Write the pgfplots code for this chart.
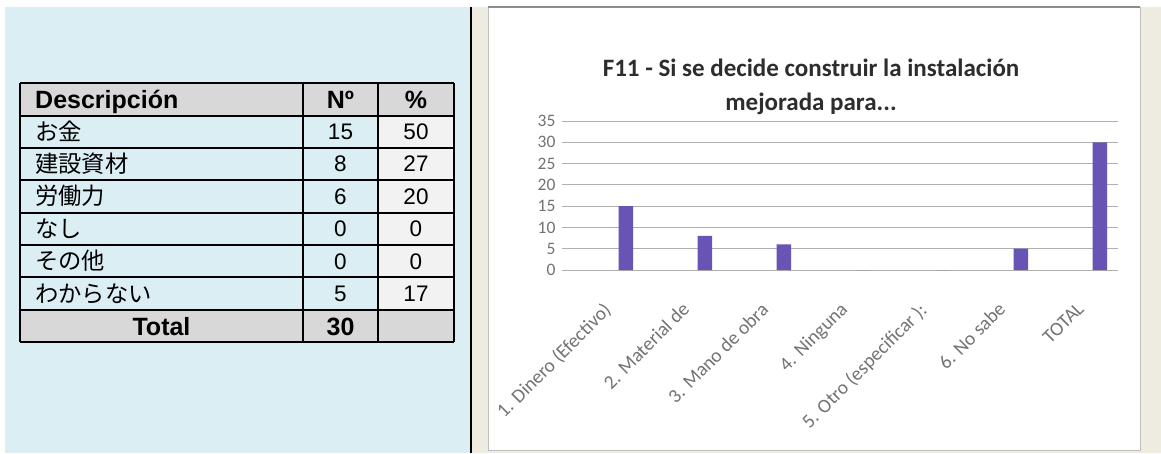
\documentclass[border=0pt]{standalone}
\usepackage{fontspec}
\setmainfont{Liberation Sans}
\newfontfamily\cjk{Noto Sans CJK JP}
\newfontfamily\carlito{Carlito}
\usepackage{pgfplots}
\pgfplotsset{compat=1.18}
\definecolor{bgblue}{RGB}{218,238,243}
\definecolor{hdrgray}{RGB}{216,216,216}
\definecolor{cellgray}{RGB}{242,242,242}
\definecolor{beige}{RGB}{238,236,225}
\definecolor{barpurple}{RGB}{104,84,180}
\definecolor{gridgray}{RGB}{175,175,175}
\definecolor{labgray}{RGB}{115,115,115}
\definecolor{titlegray}{RGB}{45,45,45}
\newcommand{\tf}{\fontsize{22.5}{27}\selectfont}
\newcommand{\tbf}{\fontsize{25}{30}\selectfont\bfseries}
\begin{document}
\begin{tikzpicture}[x=1pt,y=1pt]
\useasboundingbox (0,0) rectangle (1161,453);
\fill[white] (0,0) rectangle (1161,453);
\fill[bgblue] (5,0) rectangle (470,446);
\fill[beige] (472,0) rectangle (1161,446);
\fill[black] (469.5,0) rectangle (472,446);
\fill[white] (488,3) rectangle (1140,446);
\draw[black!25, line width=0.8pt] (488,3) rectangle (1140,446);
\draw[black!45, line width=1.2pt] (488,446) -- (1140,446);
% table
\fill[hdrgray] (20,337) rectangle (454,370);
\fill[hdrgray] (20,111) rectangle (454,143);
\fill[cellgray] (378,143) rectangle (454,337);
\foreach \yy in {370,337,305,273,240,208,176,143,111}{\draw[line width=1.6pt] (20,\yy) -- (454,\yy);}
\foreach \xx in {20,303,378,454}{\draw[line width=1.6pt] (\xx,111) -- (\xx,370);}
\node[anchor=base west, inner sep=0pt] at (35,344.5) {\tbf Descripción};
\node[anchor=base, inner sep=0pt] at (340.5,344.5) {\tbf Nº};
\node[anchor=base, inner sep=0pt] at (416,344.5) {\tbf \%};
\foreach \yc/\lab/\n/\p in {321/お金/15/50, 289/建設資材/8/27, 256.5/労働力/6/20, 224/なし/0/0, 192/その他/0/0, 159.5/わからない/5/17}{
  \node[anchor=base west, inner sep=0pt] at (35,\yc-8.5) {\fontsize{23.3}{27}\selectfont\cjk \lab};
  \node[anchor=base, inner sep=0pt] at (340.5,\yc-8) {\tf \n};
  \node[anchor=base, inner sep=0pt] at (416,\yc-8) {\tf \p};
}
\node[anchor=base, inner sep=0pt] at (161.5,118) {\tbf Total};
\node[anchor=base, inner sep=0pt] at (340.5,118) {\tbf 30};
% chart title
\node[font=\carlito\bfseries\fontsize{25}{34}\selectfont, text=titlegray, align=center] at (811,366) {F11 - Si se decide construir la instalación\\mejorada para...};
\begin{axis}[
  at={(562pt,183pt)}, anchor=south west,
  scale only axis, width=556pt, height=149pt,
  xmin=-0.81, xmax=6.23, ymin=0, ymax=35,
  ytick={0,5,...,35},
  xtick={0,...,6},
  xticklabels={1. Dinero (Efectivo), 2. Material de, 3. Mano de obra, 4. Ninguna, 5. Otro (especificar ):, 6. No sabe, TOTAL},
  ymajorgrids, grid style={gridgray, line width=0.9pt},
  axis line style={draw=none}, major tick style={draw=none},
  /pgf/number format/assume math mode=true,
  yticklabel style={font=\carlito\fontsize{17.5}{20}\selectfont, text=labgray, xshift=-3pt},
  xticklabel style={font=\carlito\fontsize{19.5}{22}\selectfont, text=labgray, xshift=-24pt, yshift=-22pt, rotate=45, anchor=north east},
  ybar, bar width=14.5pt,
]
\addplot[fill=barpurple, draw=none] coordinates {(0,15) (1,8) (2,6) (3,0) (4,0) (5,5) (6,30)};
\end{axis}
\end{tikzpicture}
\end{document}
